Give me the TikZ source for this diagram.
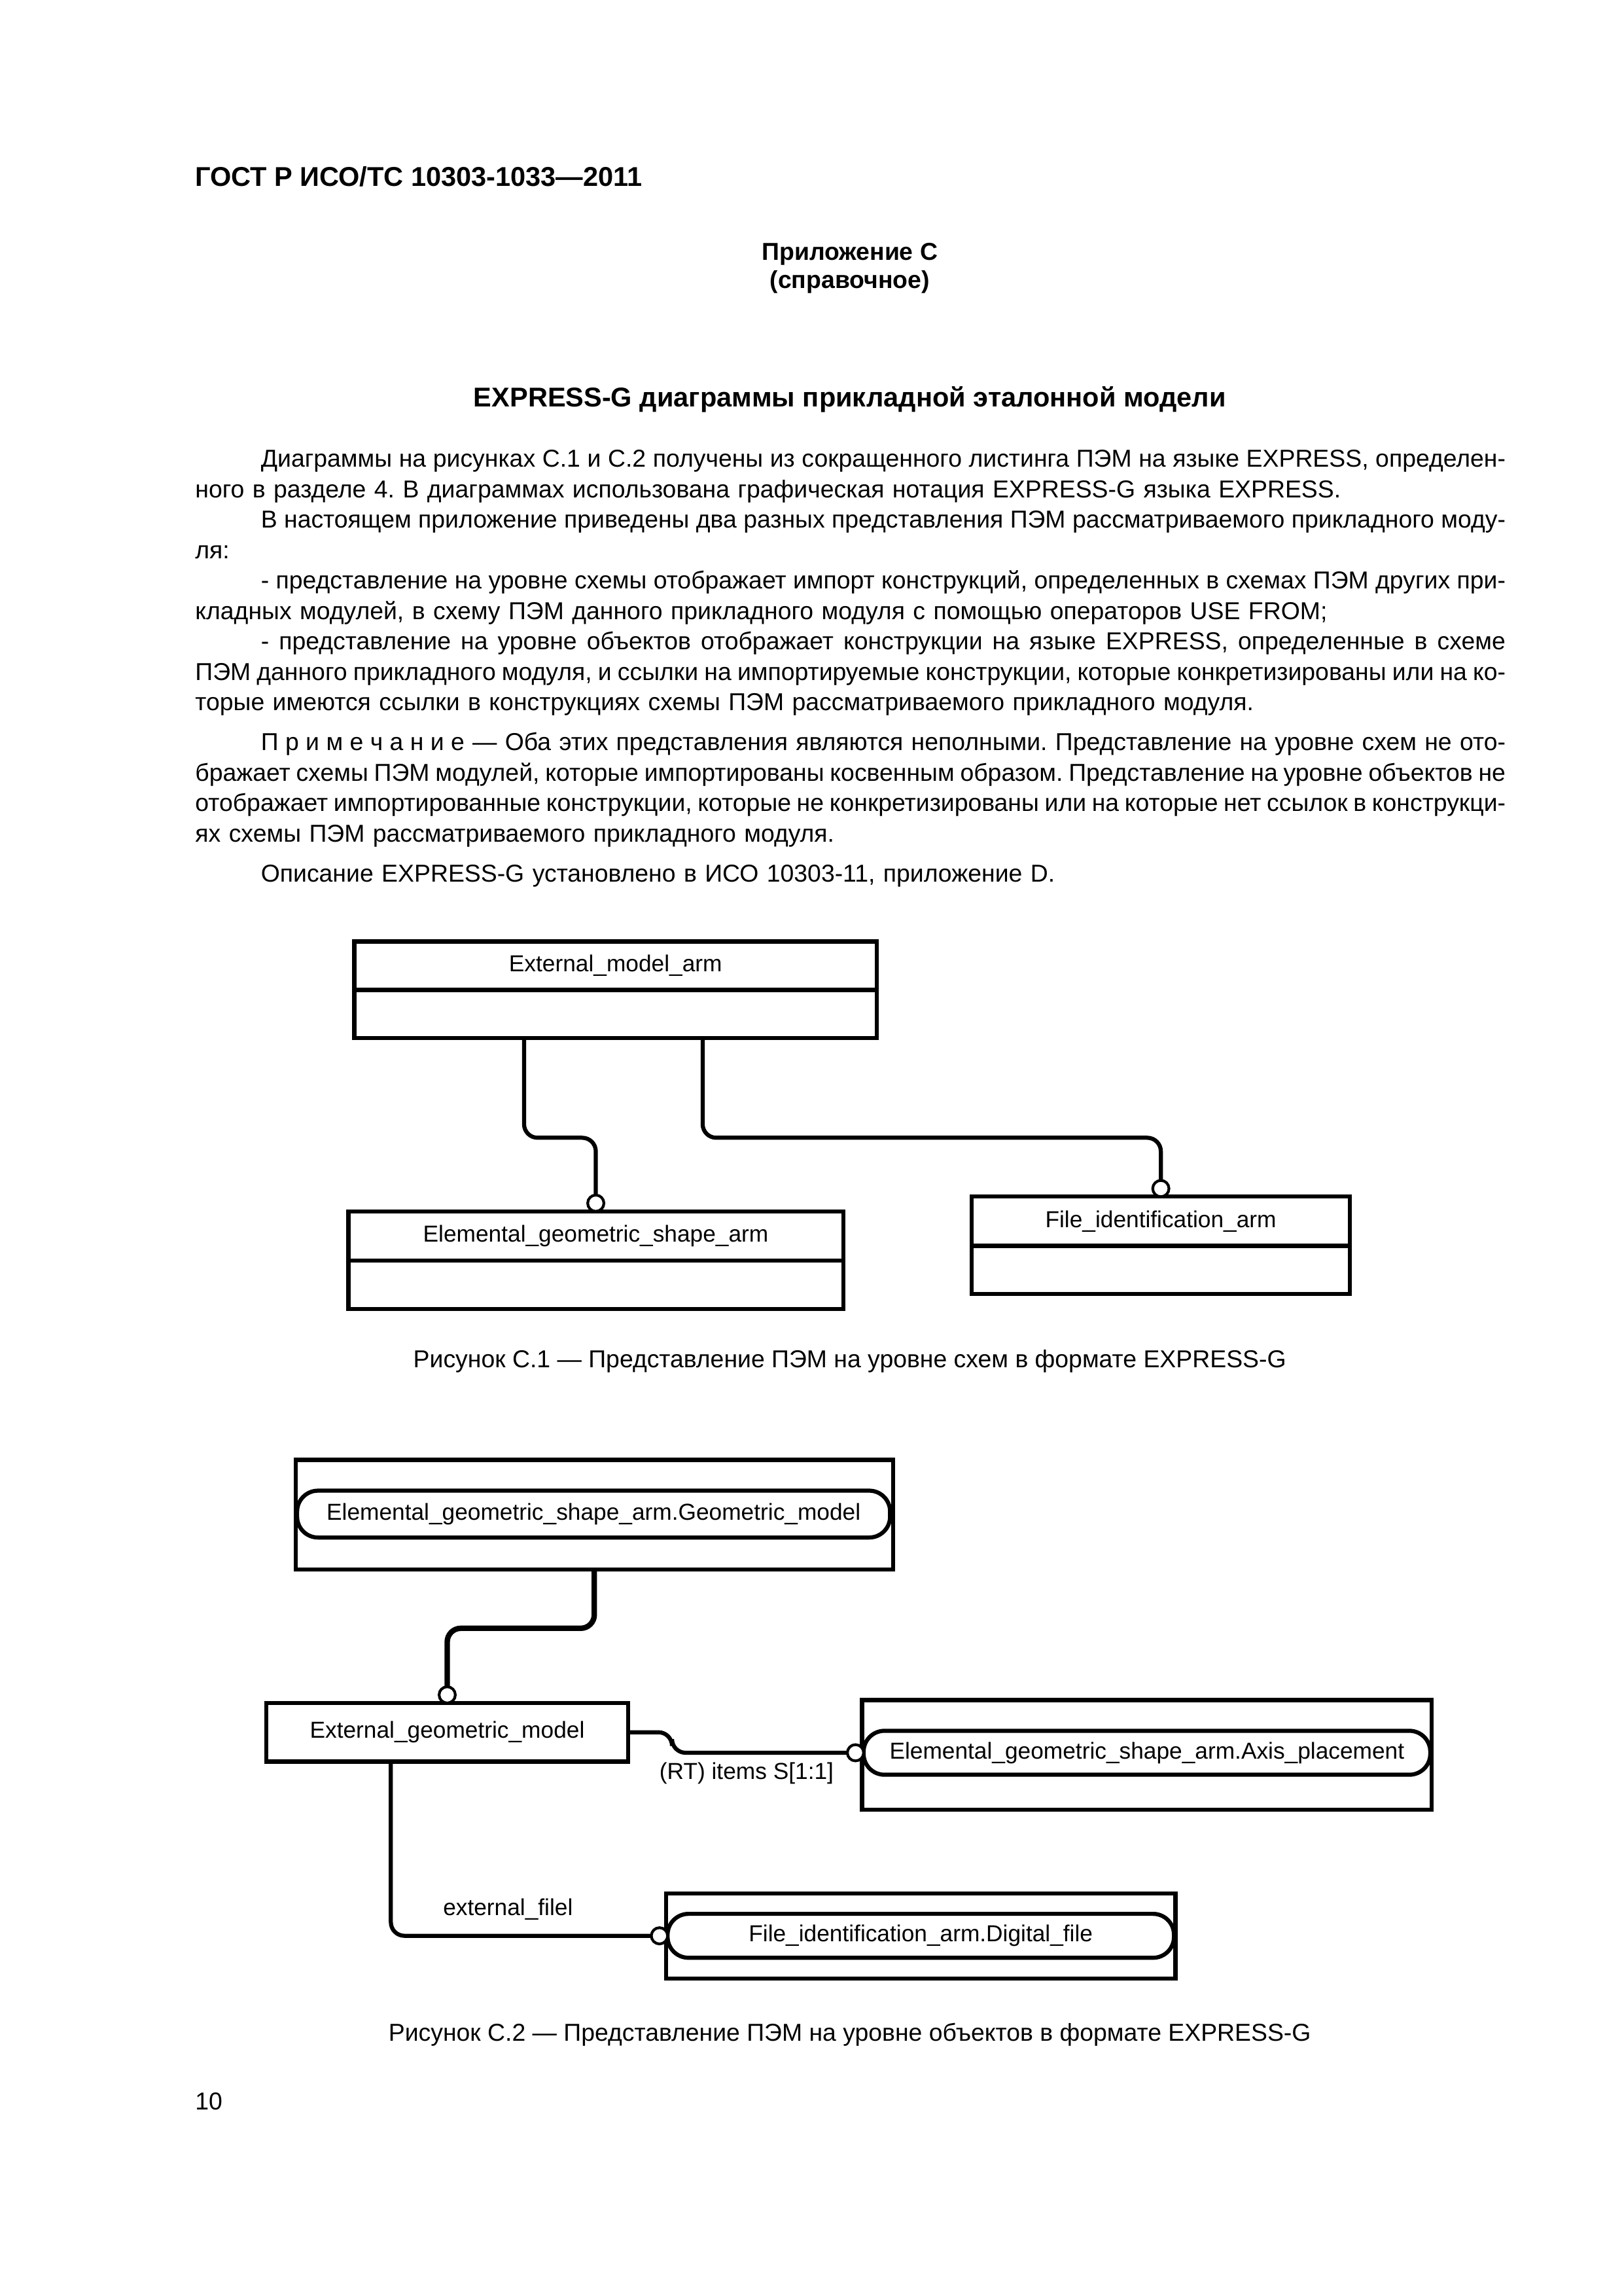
\documentclass[tikz,border=0pt]{standalone}
\usepackage{fontspec}
\setmainfont{Liberation Sans}
\usetikzlibrary{positioning}

\newlength\bodyw
\setlength\bodyw{169.5mm}
\newcommand\fl[1]{\hbox to\bodyw{\spaceskip=0.278em plus 0.5em minus 0.16em\relax #1}\par}
\newcommand\rl[1]{\hbox{#1}\par}

\tikzset{
  txt/.style={text width=\bodyw,inner sep=0pt,align=left,anchor=base west,
    font={\fontsize{9}{11.2}\selectfont\frenchspacing}},
  head/.style={inner sep=0pt,anchor=base,font=\fontsize{10}{12}\selectfont\bfseries},
  capt/.style={inner sep=0pt,anchor=base,font=\fontsize{9}{11}\selectfont},
  ent/.style={draw,line width=1.5pt,inner sep=0pt,outer sep=0pt,font=\fontsize{8.5}{10}\selectfont},
  pill/.style={draw,line width=1.5pt,inner sep=0pt,outer sep=0pt,rounded corners=2.7mm,font=\fontsize{8.5}{10}\selectfont},
  link/.style={line width=1.5pt,rounded corners=5pt},
  ring/.style={draw,circle,line width=1pt,fill=white,inner sep=0pt,outer sep=0pt,minimum size=2.1mm},
  lbl/.style={inner sep=0pt,font=\fontsize{8.5}{10}\selectfont}
}

\begin{document}
\begin{tikzpicture}[x=0.018936cm,y=-0.018936cm]
\useasboundingbox (0,0) rectangle (1109,1568);

\node[head,anchor=base west] (gost) at (133,127) {ГОСТ Р ИСО/ТС 10303-1033—2011};
\node[head,font=\fontsize{9}{11}\selectfont\bfseries] (appx) at (580.5,177.5) {Приложение С};
\node[head,font=\fontsize{9}{11}\selectfont\bfseries] (ref) at (580.5,196.8) {(справочное)};
\node[head] (title) at (580.5,278) {EXPRESS-G диаграммы прикладной эталонной модели};

\node[txt] (body) at (133,319) {%
\fl{\hspace*{8.5mm}Диаграммы на рисунках С.1 и С.2 получены из сокращенного листинга ПЭМ на языке EXPRESS, определен-}%
\rl{ного в разделе 4. В диаграммах использована графическая нотация EXPRESS-G языка EXPRESS.}%
\fl{\hspace*{8.5mm}В настоящем приложение приведены два разных представления ПЭМ рассматриваемого прикладного моду-}%
\rl{ля:}%
\fl{\hspace*{8.5mm}- представление на уровне схемы отображает импорт конструкций, определенных в схемах ПЭМ других при-}%
\rl{кладных модулей, в схему ПЭМ данного прикладного модуля с помощью операторов USE FROM;}%
\fl{\hspace*{8.5mm}- представление на уровне объектов отображает конструкции на языке EXPRESS, определенные в схеме}%
\fl{ПЭМ данного прикладного модуля, и ссылки на импортируемые конструкции, которые конкретизированы или на ко-}%
\rl{торые имеются ссылки в конструкциях схемы ПЭМ рассматриваемого прикладного модуля.}};
\node[txt] (note) at (133,512.5) {%
\fl{\hspace*{8.5mm}\mbox{П р и м е ч а н и е} — Оба этих представления являются неполными. Представление на уровне схем не ото-}%
\fl{бражает схемы ПЭМ модулей, которые импортированы косвенным образом. Представление на уровне объектов не}%
\fl{отображает импортированные конструкции, которые не конкретизированы или на которые нет ссылок в конструкци-}%
\rl{ях схемы ПЭМ рассматриваемого прикладного модуля.}};
\node[txt] (desc) at (133,602.5) {\hspace*{8.5mm}Описание EXPRESS-G установлено в ИСО 10303-11, приложение D.};

\node[ent,minimum width=67.6mm,minimum height=6.25mm] (ema) at (420.5,659.5) {External\_model\_arm};
\node[ent,minimum width=67.6mm,minimum height=6.25mm,below=0pt of ema] (emab) {};
\node[ent,minimum width=64mm,minimum height=6.35mm] (egsa) at (407,844) {Elemental\_geometric\_shape\_arm};
\node[ent,minimum width=64mm,minimum height=6.25mm,below=0pt of egsa] (egsab) {};
\node[ent,minimum width=48.9mm,minimum height=6.35mm] (fia) at (793,834) {File\_identification\_arm};
\node[ent,minimum width=48.9mm,minimum height=6.25mm,below=0pt of fia] (fiab) {};
\node[ring,anchor=south] (ca) at (egsa.north) {};
\node[ring,anchor=south] (cb) at (fia.north) {};
\coordinate (s1) at (358,709);
\coordinate (s2) at (480,709);
\draw[link] (s1) -- ++(0,68) -| (ca.north);
\draw[link] (s2) -- ++(0,68) -| (cb.north);
\node[capt] (cap1) at (580.5,934) {Рисунок С.1 — Представление ПЭМ на уровне схем в формате EXPRESS-G};

\node[ent,minimum width=77.3mm,minimum height=14.2mm] (gm) at (406,1034.5) {};
\node[pill,minimum width=76.7mm,minimum height=6.06mm] (gmp) at (405.5,1034) {Elemental\_geometric\_shape\_arm.Geometric\_model};
\node[ent,minimum width=46.8mm,minimum height=7.57mm] (egm) at (305.5,1183) {External\_geometric\_model};
\node[ent,minimum width=73.7mm,minimum height=14.2mm] (ap) at (783.5,1198.5) {};
\node[pill,minimum width=73.3mm,minimum height=5.68mm] (app) at (783.5,1197) {Elemental\_geometric\_shape\_arm.Axis\_placement};
\node[ent,minimum width=65.9mm,minimum height=11mm] (df) at (629,1322) {};
\node[pill,minimum width=65.5mm,minimum height=5.68mm] (dfp) at (629,1322) {File\_identification\_arm.Digital\_file};
\node[ring,anchor=south] (cgm) at (egm.north) {};
\node[ring,anchor=east] (cap) at (app.west) {};
\node[ring,anchor=east] (cdf) at (dfp.west) {};
\coordinate (s3) at (267,1203);
\draw[link,line width=2pt] (gm.south) -- ++(0,40) -| (cgm.north);
\draw[link] (egm.east) -- ++(30,0) |- (cap.west);
\draw[link] (s3) |- (cdf.west);
\node[lbl] (items) at (510,1211) {(RT) items S[1:1]};
\node[lbl] (extf) at (347,1304) {external\_filel};
\node[capt] (cap2) at (580.5,1394) {Рисунок С.2 — Представление ПЭМ на уровне объектов в формате EXPRESS-G};

\node[capt,anchor=base west] (page) at (133,1441) {10};
\end{tikzpicture}
\end{document}
